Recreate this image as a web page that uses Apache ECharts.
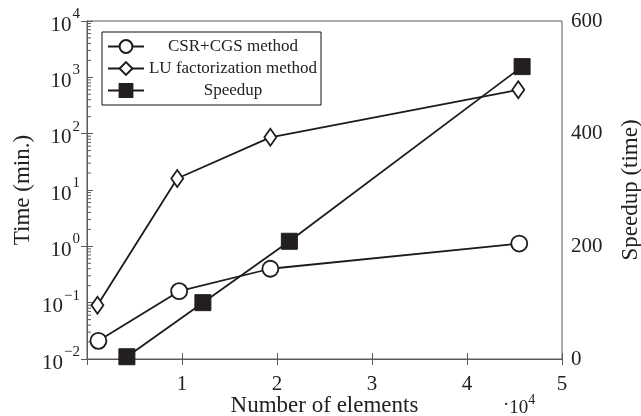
<!DOCTYPE html>
<html><head><meta charset="utf-8">
<script src="https://cdn.jsdelivr.net/npm/echarts@6/dist/echarts.min.js"></script>
<style>html,body{margin:0;padding:0;background:#fff}#c{width:641px;height:416px}</style>
</head><body><div id="c"></div>
<script>
// Data (x in units of 10^4 elements)
var csrX = [0.12, 0.97, 1.93, 4.55];
var csrTime = [0.021, 0.16, 0.40, 1.12];
var luX = [0.11, 0.95, 1.93, 4.54];
var luTime = [0.09, 16, 86, 600];
var spX = [0.42, 1.22, 2.13, 4.58];
var speedup = [4, 100, 209, 519];
var seriesNames = ['CSR+CGS method', 'LU factorization method', 'Speedup'];
var xTicks = [1, 2, 3, 4, 5];
var rightTicks = [0, 200, 400, 600];
var minorMult = [2, 3, 4, 5, 6, 7, 8, 9];
var decades = [0.01, 0.1, 1, 10, 100, 1000];

function zip(a, b) { return a.map(function (v, i) { return [v, b[i]]; }); }
var minorData = [];
decades.forEach(function (d) { minorMult.forEach(function (m) { minorData.push([0, m * d]); }); });

var FONT = 'Liberation Serif';
var TXT = '#222';
var LINE = '#1c1c1c';
var AX = '#5a5a5a';

function logLabel(v) {
  var e = Math.round(Math.log10(v));
  var s = String(e).replace('-', '\u2212');
  return '{b|10}{s|' + s + '}';
}

var chart = echarts.init(document.getElementById('c'), null, {renderer: 'canvas'});
chart.setOption({
  animation: false,
  grid: {left: 87, right: 79, top: 21, bottom: 57, show: true, borderColor: AX, borderWidth: 1,
    containLabel: false, outerBoundsMode: 'none'},
  legend: {
    left: 102, top: 32, orient: 'vertical', itemGap: 5, itemWidth: 36, itemHeight: 16,
    borderColor: '#111', borderWidth: 1, padding: [6, 4, 6, 5], borderRadius: 0,
    data: seriesNames,
    formatter: function (n) { return '{t|' + n + '}'; },
    textStyle: {fontFamily: FONT, fontSize: 17, color: TXT,
      rich: {t: {fontFamily: FONT, fontSize: 17, color: TXT, width: 168, align: 'center', lineHeight: 19}}}
  },
  xAxis: [{
    type: 'value', min: 0, max: 5, interval: 1, position: 'bottom',
    axisLine: {show: true, onZero: false, lineStyle: {color: AX, width: 1}},
    axisTick: {show: true, inside: true, length: 6, lineStyle: {color: AX}},
    splitLine: {show: false},
    axisLabel: {margin: 15, fontFamily: FONT, fontSize: 21, color: TXT,
      formatter: function (v) { return xTicks.indexOf(v) >= 0 ? String(v) : ''; }},
    name: 'Number of elements', nameLocation: 'middle', nameGap: 35, nameMoveOverlap: false,
    nameTextStyle: {fontFamily: FONT, fontSize: 23, color: TXT, lineHeight: 23}
  }, {
    type: 'value', min: 0, max: 5, interval: 1, position: 'top',
    axisLine: {show: true, lineStyle: {color: AX}},
    axisTick: {show: true, inside: true, length: 6, lineStyle: {color: AX}},
    axisLabel: {show: false}, splitLine: {show: false}
  }],
  yAxis: [{
    type: 'log', logBase: 10, min: 0.01, max: 10000, interval: 1, position: 'left',
    axisLine: {show: true, lineStyle: {color: AX}},
    axisTick: {show: true, inside: true, length: 6, lineStyle: {color: AX}},
    splitLine: {show: false},
    axisLabel: {margin: 7, formatter: logLabel,
      rich: {b: {fontFamily: FONT, fontSize: 21, color: TXT, padding: [8, 0, 0, 0]},
             s: {fontFamily: FONT, fontSize: 15, color: TXT, verticalAlign: 'top', padding: [0, 0, 10, 1]}}},
    name: 'Time (min.)', nameLocation: 'middle', nameGap: 53, nameRotate: 90, nameMoveOverlap: false,
    nameTextStyle: {fontFamily: FONT, fontSize: 23, color: TXT}
  }, {
    type: 'value', min: 0, max: 600, interval: 200, position: 'right',
    axisLine: {show: true, lineStyle: {color: AX}},
    axisTick: {show: true, inside: true, length: 6, lineStyle: {color: AX}},
    splitLine: {show: false},
    axisLabel: {margin: 9, fontFamily: FONT, fontSize: 21, color: TXT,
      formatter: function (v) { return rightTicks.indexOf(v) >= 0 ? String(v) : ''; }},
    name: 'Speedup (time)', nameLocation: 'middle', nameGap: 57, nameRotate: 90, nameMoveOverlap: false,
    nameTextStyle: {fontFamily: FONT, fontSize: 23, color: TXT}
  }],
  graphic: [{
    type: 'text', left: 503, top: 393,
    style: {text: '{d|\u00b7}{b|10}{s|4}', rich: {
      d: {fontFamily: FONT, fontSize: 19, fill: TXT},
      b: {fontFamily: FONT, fontSize: 19, fill: TXT, padding: [6, 0, 0, 0]},
      s: {fontFamily: FONT, fontSize: 14, fill: TXT, verticalAlign: 'top'}}}
  }],
  series: [{
    type: 'custom', xAxisIndex: 0, yAxisIndex: 0, silent: true, data: minorData,
    renderItem: function (params, api) {
      var p = api.coord([0, api.value(1)]);
      return {type: 'line', shape: {x1: p[0], y1: p[1], x2: p[0] + 4, y2: p[1]},
        style: {stroke: AX, lineWidth: 1}};
    }
  }, {
    name: seriesNames[0], type: 'line', xAxisIndex: 0, yAxisIndex: 0, data: zip(csrX, csrTime),
    symbol: 'circle', symbolSize: 16, showAllSymbol: true,
    lineStyle: {color: LINE, width: 1.8}, itemStyle: {color: '#fff', borderColor: LINE, borderWidth: 1.8}, z: 3
  }, {
    name: seriesNames[1], type: 'line', xAxisIndex: 0, yAxisIndex: 0, data: zip(luX, luTime),
    symbol: 'diamond', symbolSize: [12, 17], showAllSymbol: true,
    lineStyle: {color: LINE, width: 1.8}, itemStyle: {color: '#fff', borderColor: LINE, borderWidth: 1.8}, z: 3
  }, {
    name: seriesNames[2], type: 'line', xAxisIndex: 0, yAxisIndex: 1, data: zip(spX, speedup),
    symbol: 'rect', symbolSize: 16, showAllSymbol: true,
    lineStyle: {color: LINE, width: 1.8}, itemStyle: {color: '#231f20', borderColor: '#231f20', borderWidth: 1}, z: 4
  }]
});
</script></body></html>
